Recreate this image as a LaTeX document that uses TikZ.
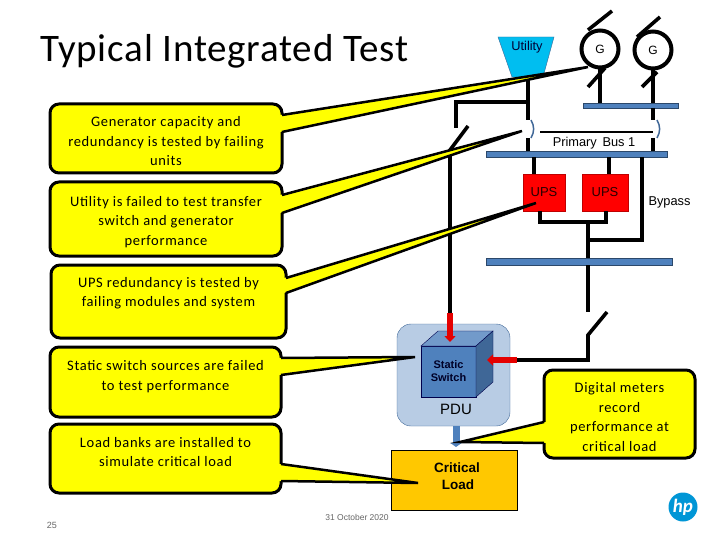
\documentclass[tikz,border=0pt]{standalone}
\usepackage{fontspec}
\setmainfont{Carlito}
\setsansfont{Liberation Sans}
\newfontfamily\notefont[LetterSpace=4.5]{Carlito}
\newfontfamily\titlefont[LetterSpace=2]{Carlito}
\newcommand{\notetop}{\rule{0pt}{16pt}}
\usetikzlibrary{arrows.meta}
\definecolor{calloutyellow}{RGB}{255,255,0}
\definecolor{busblue}{RGB}{79,129,189}
\definecolor{pdublue}{RGB}{184,204,228}
\definecolor{cubetop}{RGB}{114,154,202}
\definecolor{cubeside}{RGB}{63,103,151}
\definecolor{utilitycyan}{RGB}{0,190,240}
\definecolor{loadorange}{RGB}{255,200,0}
\definecolor{hpblue}{RGB}{0,150,214}
\tikzset{
    callout/.style={rectangle,draw=black,fill=calloutyellow,line width=3pt,rounded corners=9pt,outer sep=0pt,align=center,font=\notefont\fontsize{14.5}{19.5}\selectfont},
    tail_fill/.style={fill=calloutyellow},
    tail_line/.style={draw=black,line width=2.5pt},
    wire/.style={draw=black,line width=3.6pt},
    bus/.style={rectangle,draw=cubeside!70!black,fill=busblue,thin,inner sep=0pt,outer sep=0pt},
    ups/.style={rectangle,draw=red!75!black,fill=red,thin,inner sep=0pt,outer sep=0pt,text=red!15!black,font=\sffamily\fontsize{13}{15}\selectfont},
    gen/.style={circle,draw=black,line width=4pt,fill=white,inner sep=0pt,outer sep=0pt,minimum size=37pt,font=\sffamily\fontsize{12}{14}\selectfont},
    breaker/.style={draw=cubeside,line width=1.5pt},
    red_arrow/.style={draw=red!90!black,line width=6pt,-{Triangle[width=11pt,length=6pt]}},
    label_sans/.style={font=\sffamily\fontsize{12.8}{15}\selectfont,inner sep=0pt},
}
\begin{document}
\begin{tikzpicture}[x=1pt,y=-1pt]
    \useasboundingbox (0,0) rectangle (720,540);

    \node[font=\titlefont\fontsize{39}{42}\selectfont,anchor=west,inner sep=0pt] (title) at (40,51) {Typical Integrated Test};

    % sources
    \draw[draw=cubeside,fill=utilitycyan,thin] (498,37) -- (554,37) -- (543,77) -- (512,77) -- cycle;
    \node[label_sans,text=black!80!blue] (utility) at (527,47) {Utility};
    \node[gen] (gen_a) at (600,49) {G};
    \node[gen] (gen_b) at (653,50) {G};

    % buses
    \node[bus,minimum width=95pt,minimum height=5pt] (bus_top) at (630.5,105.5) {};
    \node[bus,minimum width=181pt,minimum height=6pt] (bus_mid) at (576.5,154) {};
    \node[bus,minimum width=186pt,minimum height=7pt] (bus_low) at (579,261.5) {};

    \node[ups,minimum width=42pt,minimum height=37pt] (ups_a) at (544,192.5) {UPS};
    \node[ups,minimum width=46pt,minimum height=37pt] (ups_b) at (605,192.5) {UPS};

    \node[label_sans] (bus_text) at (594,143) {Primary\, Bus 1};
    \node[label_sans] (bypass_text) at (669.5,202.5) {Bypass};

    % pdu and load
    \node[rectangle,draw=cubeside,fill=pdublue,thin,rounded corners=14pt,outer sep=0pt,minimum width=113pt,minimum height=102pt] (pdu) at (453.5,375) {};
    \node[rectangle,draw=black!70!blue,fill=busblue,thin,outer sep=0pt,inner sep=0pt,minimum width=55pt,minimum height=51pt,align=center,text=black!85!blue,font=\sffamily\bfseries\fontsize{11}{13}\selectfont] (cube) at (448.5,371.5) {Static\\Switch};
    \draw[draw=black!70!blue,fill=cubetop,thin] (cube.north west) -- ++(17,-15) -- ++(55,0) -- (cube.north east) -- cycle;
    \draw[draw=black!70!blue,fill=cubeside,thin] (cube.north east) -- ++(17,-15) -- ++(0,51) -- (cube.south east) -- cycle;
    \node[font=\sffamily\fontsize{15}{17}\selectfont,inner sep=0pt] (pdu_text) at (456,409) {PDU};
    \node[rectangle,draw=black,fill=loadorange,thin,outer sep=0pt,minimum width=126pt,minimum height=60pt,align=center,font=\sffamily\bfseries\fontsize{13.5}{17}\selectfont] (load) at (454,480) {\hspace*{6pt}Critical\\\hspace*{8pt}Load\\[-10pt]~};
    \draw[draw=busblue,line width=7pt,-{Triangle[width=11pt,length=4pt]}] (pdu.south -| pdu_text) -- ([yshift=3pt]load.north -| pdu_text);

    % wiring coordinates
    \coordinate (utility_out) at (528,77);
    \coordinate (utility_tap) at (528,102);
    \coordinate (brk_a_top) at (528,120);
    \coordinate (brk_a_bot) at (528,138);
    \coordinate (brk_b_top) at (653,120);
    \coordinate (brk_b_bot) at (653,138);
    \coordinate (tie_a) at (540,132);
    \coordinate (tie_b) at (653,132);
    \coordinate (xfer_top) at (456,126);
    \coordinate (xfer_hinge) at (450,150);
    \coordinate (xfer_blade) at (468,126);
    \coordinate (cube_in_a) at (450,313);
    \coordinate (ups_join) at (588,222);
    \coordinate (bypass_tap) at (642,157);
    \coordinate (bypass_join) at (588,240);
    \coordinate (out_open) at (588,312);
    \coordinate (out_blade) at (607,312);
    \coordinate (out_hinge) at (588,335);
    \coordinate (out_bend) at (588,360);
    \coordinate (cube_in_b) at (517,360);

    \draw[wire] (gen_a.south) -- (gen_a.south |- bus_top.north);
    \draw[wire] (gen_b.south) -- (gen_b.south |- bus_top.north);
    \draw[wire] ([shift={(-12,-19)}]gen_a.center) -- ++(24,-19);
    \draw[wire] ([shift={(-16,-13)}]gen_b.center) -- ++(23,-20);
    \draw[wire] ([shift={(-12,38)}]gen_a.center) -- ++(17,-19);
    \draw[wire] ([shift={(-11,37)}]gen_b.center) -- ++(15,-15);

    \draw[wire] (utility_out) -- (brk_a_top);
    \draw[wire] (brk_a_bot) -- (brk_a_bot |- bus_mid.north);
    \draw[wire] (bus_top.south -| brk_b_top) -- (brk_b_top);
    \draw[wire] (brk_b_bot) -- (brk_b_bot |- bus_mid.north);
    \draw[breaker] ([xshift=3pt]brk_a_top) to[bend left=30] ([xshift=3pt]brk_a_bot);
    \draw[breaker] ([xshift=4pt]brk_b_top) to[bend left=30] ([xshift=4pt]brk_b_bot);
    \draw[draw=black,line width=1.5pt] (tie_a) -- (tie_b);

    \draw[wire,line cap=rect] (utility_tap) -| (xfer_top);
    \draw[wire] (xfer_blade) -- (xfer_hinge) -- (cube_in_a);
    \draw[red_arrow] (cube_in_a) -- ([yshift=4pt]cube_in_a |- cube.north);

    \draw[wire] ([xshift=-10pt]ups_a.north) -- ([xshift=-10pt]ups_a.north |- bus_mid.south);
    \draw[wire] ([xshift=4pt]ups_b.north) -- ([xshift=4pt]ups_b.north |- bus_mid.south);
    \draw[wire] ([xshift=-4pt]ups_a.south) |- (ups_join) -| ([xshift=1pt]ups_b.south);
    \draw[wire] (ups_join) -- (ups_join |- bus_low.north);
    \draw[wire] (bypass_tap) |- (bypass_join);

    \draw[wire] (bus_low.south -| out_open) -- (out_open);
    \draw[wire] (out_blade) -- (out_hinge) -- (out_bend) -- (cube_in_b);
    \draw[red_arrow] (cube_in_b) -- ([xshift=11pt]cube.east |- cube_in_b);

    % callouts
    \node[callout,minimum width=232pt,minimum height=69pt] (gen_note) at (166,138.5) {\notetop Generator capacity and\\redundancy is tested by failing\\units};
    \node[callout,minimum width=232pt,minimum height=74pt] (utility_note) at (166,219) {\notetop Utility is failed to test transfer\\switch and generator\\performance};
    \node[callout,minimum width=235pt,minimum height=73pt] (ups_note) at (168.5,301.5) {UPS redundancy is tested by\\failing modules and system\\~};
    \node[callout,minimum width=231pt,minimum height=70pt] (switch_note) at (165.5,382) {\notetop Static switch sources are failed\\to test performance\\~};
    \node[callout,minimum width=231pt,minimum height=69pt] (load_note) at (165.5,458.5) {\notetop Load banks are installed to\\simulate critical load\\~};
    \node[callout,minimum width=151pt,minimum height=88pt] (meter_note) at (619.5,414) {\notetop Digital meters\\record\\performance at\\critical load};

    \coordinate (gen_tip) at (588,67);
    \coordinate (utility_tip) at (522,131);
    \coordinate (ups_tip) at (536,203);
    \coordinate (switch_tip) at (415,357);
    \coordinate (load_tip) at (418,483);
    \coordinate (meter_tip) at (460,442);

    \fill[tail_fill] ([shift={(-2,11)}]gen_note.north east) -- (gen_tip) -- ([shift={(-2,28)}]gen_note.north east) -- cycle;
    \draw[tail_line] ([yshift=-11pt]gen_note.north east) -- (gen_tip) -- ([yshift=-28pt]gen_note.north east);
    \fill[tail_fill] ([shift={(-2,13)}]utility_note.north east) -- (utility_tip) -- ([shift={(-2,31)}]utility_note.north east) -- cycle;
    \draw[tail_line] ([yshift=-13pt]utility_note.north east) -- (utility_tip) -- ([yshift=-31pt]utility_note.north east);
    \fill[tail_fill] ([shift={(-2,13)}]ups_note.north east) -- (ups_tip) -- ([shift={(-2,28)}]ups_note.north east) -- cycle;
    \draw[tail_line] ([yshift=-13pt]ups_note.north east) -- (ups_tip) -- ([yshift=-28pt]ups_note.north east);
    \fill[tail_fill] ([shift={(-2,11)}]switch_note.north east) -- (switch_tip) -- ([shift={(-2,28)}]switch_note.north east) -- cycle;
    \draw[tail_line] ([yshift=-11pt]switch_note.north east) -- (switch_tip) -- ([yshift=-28pt]switch_note.north east);
    \fill[tail_fill] ([shift={(-2,40)}]load_note.north east) -- (load_tip) -- ([shift={(-2,57)}]load_note.north east) -- cycle;
    \draw[tail_line] ([yshift=-40pt]load_note.north east) -- (load_tip) -- ([yshift=-57pt]load_note.north east);
    \fill[tail_fill] ([shift={(2,52)}]meter_note.north west) -- (meter_tip) -- ([shift={(2,73)}]meter_note.north west) -- cycle;
    \draw[tail_line] ([yshift=-52pt]meter_note.north west) -- (meter_tip) -- ([yshift=-73pt]meter_note.north west);

    % footer
    \node[font=\sffamily\fontsize{9}{10}\selectfont,text=black!60,inner sep=0pt] (page_no) at (52,525) {25};
    \node[font=\sffamily\fontsize{8.5}{10}\selectfont,text=black!60,inner sep=0pt] (date_text) at (357,517) {31 October 2020};
    \node[circle,fill=hpblue,text=white,inner sep=0pt,minimum size=29pt,font=\bfseries\itshape\fontsize{19}{20}\selectfont] (hp_logo) at (683,507) {hp};
\end{tikzpicture}
\end{document}
